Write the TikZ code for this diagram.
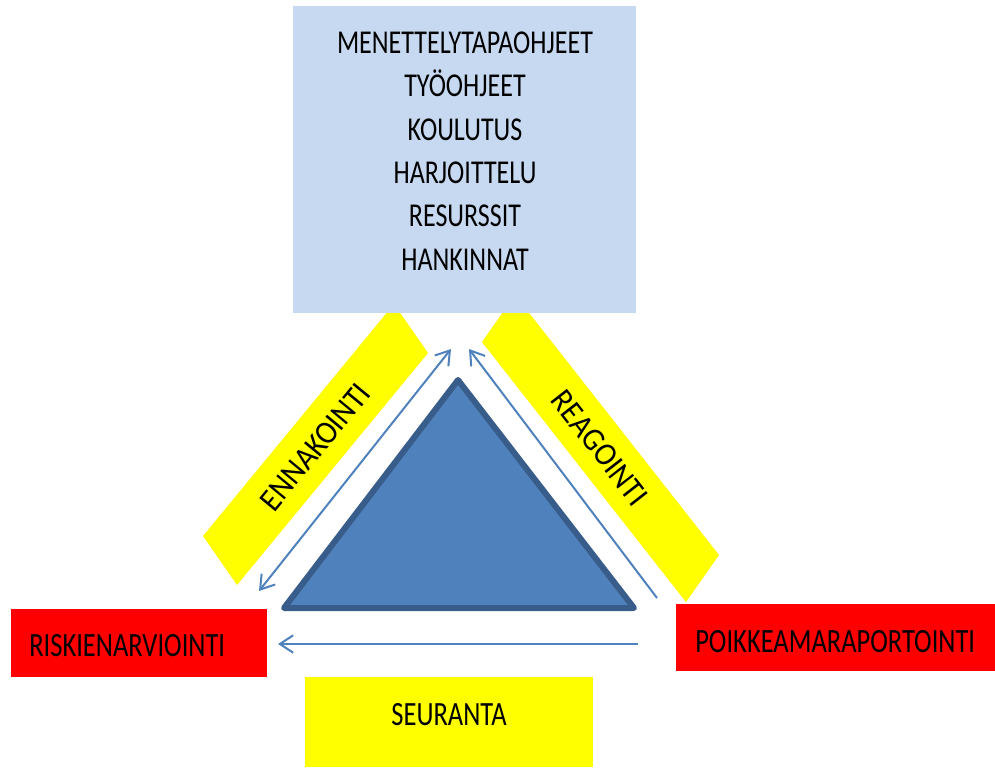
\documentclass[tikz,border=0pt]{standalone}
\usepackage{fontspec}
\setmainfont[FakeStretch=0.78]{Carlito}
\newfontfamily\slantfont[FakeStretch=0.92]{Carlito}
\usetikzlibrary{arrows.meta}

\definecolor{boxblue}{RGB}{198,217,240}
\definecolor{triblue}{RGB}{79,129,189}
\definecolor{triedge}{RGB}{56,93,138}
\definecolor{flowblue}{RGB}{79,129,189}
\definecolor{barfill}{RGB}{255,255,0}
\definecolor{alarmred}{RGB}{255,0,0}

\tikzset{
  flow/.style={draw=flowblue, line width=1.5pt, -{Straight Barb[length=10pt,width=13pt]}},
  plainlabel/.style={inner sep=0pt, text=black},
  redlabel/.style={inner sep=0pt, text=black, anchor=base west, font=\fontsize{25.5}{31}\selectfont},
  barlabel/.style={inner sep=0pt, text=black, font=\slantfont\fontsize{24.5}{29}\selectfont},
}

\begin{document}
\begin{tikzpicture}[x=0.75pt,y=0.75pt,yscale=-1]
\useasboundingbox (0,0) rectangle (995,767);

%Shape: Parallelogram [ennakointi bar]
\fill[barfill] (203,536) -- (237,585) -- (428,353) -- (394,304) -- cycle;
%Shape: Parallelogram [reagointi bar]
\fill[barfill] (482,342) -- (686,602) -- (719,555) -- (515,295) -- cycle;

%Shape: Rectangle [ohjeet]
\fill[boxblue] (293,6) rectangle (636,313);
% Text Node
\node (ohjeet) [plainlabel, align=center, font=\fontsize{25}{32.5}\selectfont] at (465,151)
  {MENETTELYTAPAOHJEET\\TYÖOHJEET\\KOULUTUS\\HARJOITTELU\\RESURSSIT\\HANKINNAT};

%Shape: Rectangle [riskit]
\fill[alarmred] (11,609) rectangle (267,677);
\node (riskit) [redlabel] at (29,656) {RISKIENARVIOINTI};

%Shape: Rectangle [poikkeamat]
\fill[alarmred] (676,604) rectangle (995,671);
\node (poikkeamat) [redlabel] at (695,652) {POIKKEAMARAPORTOINTI};

%Shape: Rectangle [seuranta]
\fill[barfill] (305,677) rectangle (593,767);
\node (seuranta) [plainlabel, anchor=base, font=\fontsize{25.5}{31}\selectfont] at (449,725) {SEURANTA};

% Text Node
\node (ennakointi) [barlabel, rotate=50.5] at (315,447) {ENNAKOINTI};
\node (reagointi) [barlabel, rotate=-52] at (600,448) {REAGOINTI};

%Shape: Triangle
\coordinate (huippu) at (458,380);
\coordinate (vasen) at (284,608);
\coordinate (oikea) at (634,608);
\draw[fill=triblue, draw=triedge, line width=4.5pt, line join=round] (huippu) -- (vasen) -- (oikea) -- cycle;

%Straight Lines
\coordinate (ennAla) at (259,591);
\coordinate (ennYla) at (451,349);
\coordinate (reaAla) at (657,598);
\coordinate (reaYla) at (469,349);
\coordinate (seuOik) at (638,644);
\coordinate (seuVas) at (278,644);
\draw[flow, {Straight Barb[length=10pt,width=13pt]}-{Straight Barb[length=10pt,width=13pt]}] (ennAla) -- (ennYla);
\draw[flow] (reaAla) -- (reaYla);
\draw[flow] (seuOik) -- (seuVas);

\end{tikzpicture}
\end{document}
